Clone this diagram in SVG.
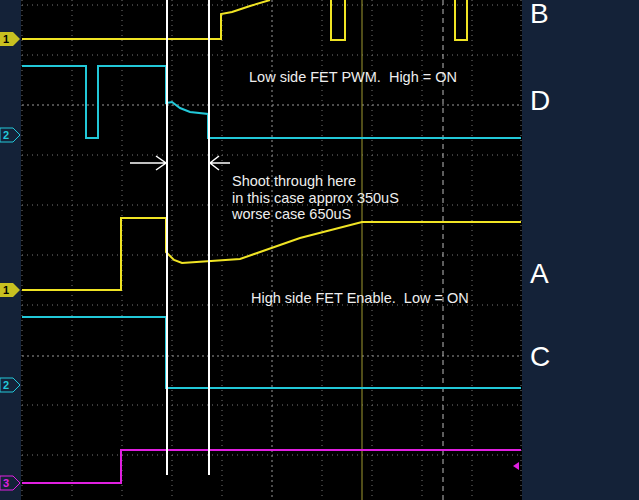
<svg xmlns="http://www.w3.org/2000/svg" width="639" height="500" viewBox="0 0 639 500">
<style>
.g{stroke:#777;stroke-width:1;stroke-dasharray:1 4}
.y{fill:none;stroke:#f0e424;stroke-width:2}
.c{fill:none;stroke:#22c8d8;stroke-width:2}
.m{fill:none;stroke:#e020e0;stroke-width:2}
.t{font-family:"Liberation Sans",Arial,sans-serif;font-size:14.5px;fill:#eee;white-space:pre}
.L{font-family:"Liberation Sans",Arial,sans-serif;font-size:28px;fill:#fff}
.n{font-family:"Liberation Sans",Arial,sans-serif;font-size:11px;font-weight:bold;fill:#000}
</style>
<rect width="639" height="500" fill="#000"/>
<rect x="0" y="0" width="21" height="500" fill="#142238"/>
<rect x="522" y="0" width="117" height="500" fill="#142238"/>
<g id="grid">
<path class="g" d="M22 0V500M72 0V500M122 0V500M172 0V500M222 0V500M322 0V500M372 0V500M422 0V500M472 0V500M521 0V500"/>
<path class="g" d="M22 5H521M22 55H521M22 155H521M22 205H521M22 255H521M22 305H521M22 405H521M22 455H521"/>
<path d="M272 0V500M22 105H521M22 356H521" stroke="#999" stroke-width="1" stroke-dasharray="2 3"/>
<path d="M443 0V500" stroke="#bbb" stroke-width="1" stroke-dasharray="5 4"/>
<path d="M362 0V500" stroke="#a09a30" stroke-width="1"/>
</g>
<g id="traces">
<path class="y" d="M22 39H221V14L232 12L250 6L270 0M331 0V40H345V0M455 0V40H467V0"/>
<path class="c" d="M22 66H86V138H98V66H166V103L172 102L180 108L190 112L208 114V138H521"/>
<path class="y" d="M22 290H121V218H166V252L174 260L182 263L240 259L300 238L362 222H521"/>
<path class="c" d="M22 317H166V388H521"/>
<path class="m" d="M22 483H121V450H521"/>
<path d="M519 462L513 466L519 470Z" fill="#e020e0"/>
</g>
<g id="cursors" stroke="#fff" stroke-width="2" fill="none">
<path d="M167 0V475M209 0V475"/>
<path d="M130 163H166M156 156L166 163L156 170M230 163H210M219 156L210 163L219 170" stroke-width="1.5"/>
</g>
<g id="labels">
<text class="t" x="249" y="82" xml:space="preserve">Low side FET PWM.  High = ON</text>
<text class="t" x="232" y="186">Shoot through here</text>
<text class="t" x="232" y="203">in this case approx 350uS</text>
<text class="t" x="232" y="219">worse case 650uS</text>
<text class="t" x="251" y="303" xml:space="preserve">High side FET Enable.  Low = ON</text>
<text class="L" x="530" y="23">B</text>
<text class="L" x="530" y="110">D</text>
<text class="L" x="530" y="283">A</text>
<text class="L" x="530" y="366">C</text>
</g>
<g id="markers">
<path d="M0 32H13L20 39L13 46H0Z" fill="#c8c020"/><text class="n" x="3" y="43">1</text>
<path d="M0 283H13L20 290L13 297H0Z" fill="#c8c020"/><text class="n" x="3" y="294">1</text>
<path d="M0 128H13L20 135L13 142H0Z" fill="#142238" stroke="#22c8d8"/><text class="n" x="3" y="139" style="fill:#22c8d8">2</text>
<path d="M0 378H13L20 385L13 392H0Z" fill="#142238" stroke="#22c8d8"/><text class="n" x="3" y="389" style="fill:#22c8d8">2</text>
<path d="M0 476H13L20 483L13 490H0Z" fill="#142238" stroke="#e020e0"/><text class="n" x="3" y="487" style="fill:#e020e0">3</text>
</g>
</svg>
